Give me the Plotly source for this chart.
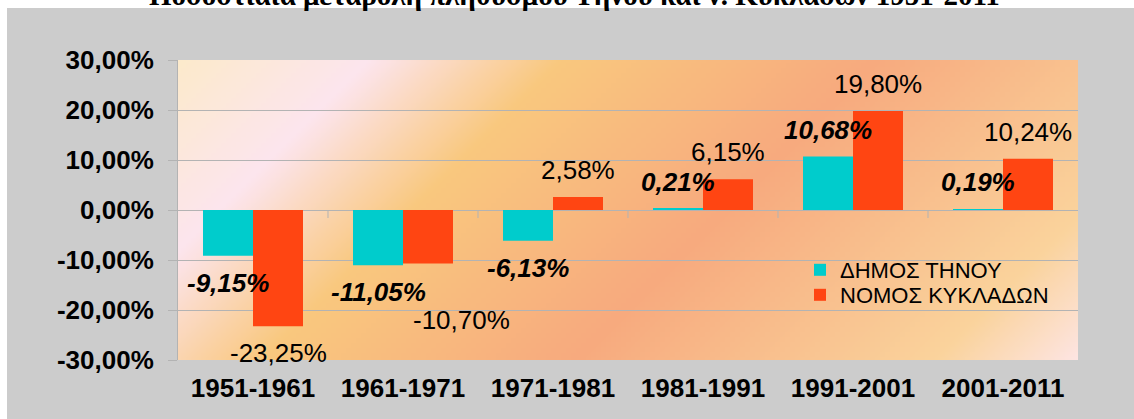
import base64
import struct
import zlib
import plotly.graph_objects as go

# ---------------- data ----------------
categories = ["1951-1961", "1961-1971", "1971-1981", "1981-1991", "1991-2001", "2001-2011"]
tinos = [-9.15, -11.05, -6.13, 0.21, 10.68, 0.19]
cyclades = [-23.25, -10.70, 2.58, 6.15, 19.80, 10.24]
series_names = ["ΔΗΜΟΣ ΤΗΝΟΥ", "ΝΟΜΟΣ ΚΥΚΛΑΔΩΝ"]
y_tick_values = [-30, -20, -10, 0, 10, 20, 30]
title_text = "Ποσοστιαία μεταβολή πληθυσμού Τήνου και ν. Κυκλάδων 1951-2011"

# ---------------- layout constants (figure pixels) ----------------
W, H = 1134, 419
ML, MR, MT, MB = 178, 56, 60, 59
PW, PH = W - ML - MR, H - MT - MB
BARGAP = 1 / 3
FONT = "Arial, Liberation Sans, sans-serif"
CYAN = "#00CCCC"
ORANGE = "#FF4512"
GRID = "#B3B3B3"
GRAY_BG = "#CCCCCC"


def pct(v):
    return f"{v:.2f}".replace(".", ",") + "%"


def px_x(xpx):
    return (xpx - ML) / PW


def px_y(ypx):
    return (MT + PH - ypx) / PH


# ---------------- diagonal gradient background (PNG) ----------------
stops = [
    (0.00, (252, 234, 203)),
    (0.16, (252, 229, 238)),
    (0.32, (249, 200, 126)),
    (0.58, (247, 170, 126)),
    (0.88, (250, 211, 156)),
    (1.00, (253, 229, 227)),
]


def grad_color(t):
    for (t0, c0), (t1, c1) in zip(stops[:-1], stops[1:]):
        if t <= t1:
            f = (t - t0) / (t1 - t0) if t1 > t0 else 0
            return tuple(int(round(a + (b - a) * f)) for a, b in zip(c0, c1))
    return stops[-1][1]


def make_png(w, h):
    rows = []
    for j in range(h):
        row = bytearray([0])
        py = (j + 0.5) * PH / h
        for i in range(w):
            px = (i + 0.5) * PW / w
            t = (px + py) / (PW + PH)
            row.extend(grad_color(t))
        rows.append(bytes(row))
    raw = b"".join(rows)

    def chunk(tag, data):
        return (struct.pack(">I", len(data)) + tag + data
                + struct.pack(">I", zlib.crc32(tag + data) & 0xFFFFFFFF))

    png = (b"\x89PNG\r\n\x1a\n"
           + chunk(b"IHDR", struct.pack(">IIBBBBB", w, h, 8, 2, 0, 0, 0))
           + chunk(b"IDAT", zlib.compress(raw, 9))
           + chunk(b"IEND", b""))
    return "data:image/png;base64," + base64.b64encode(png).decode()


bg_uri = make_png(180, 60)

# ---------------- figure ----------------
fig = go.Figure()
fig.add_trace(go.Bar(x=categories, y=tinos, name=series_names[0], legend="legend",
                     marker=dict(color=CYAN, line=dict(width=0))))
fig.add_trace(go.Bar(x=categories, y=cyclades, name=series_names[1], legend="legend2",
                     marker=dict(color=ORANGE, line=dict(width=0))))

# data labels
bar_px = PW / len(categories) * (1 - BARGAP) / 2
label_gap = 27
special_offsets = {(1, 1): (33, -29)}  # (series, category): extra (dx, dy) px
annotations = []
for s, (vals, bold) in enumerate([(tinos, True), (cyclades, False)]):
    for c, (cat, v) in enumerate(zip(categories, vals)):
        dx, dy = special_offsets.get((s, c), (0, 0))
        sign = 1 if v >= 0 else -1
        txt = pct(v)
        if bold:
            txt = f"<b><i>{txt}</i></b>"
        annotations.append(dict(
            x=cat, y=v, xref="x", yref="y", text=txt, showarrow=False,
            xanchor="center", yanchor="middle",
            xshift=(-bar_px / 2 if s == 0 else bar_px / 2) + dx,
            yshift=sign * label_gap + dy,
            font=dict(family=FONT, size=26, color="black"),
        ))

# title (only its lower part shows, above the chart's gray area)
annotations.append(dict(
    x=px_x(574), y=px_y(-5), xref="paper", yref="paper",
    text=f"<b>{title_text}</b>", showarrow=False, xanchor="center", yanchor="middle",
    font=dict(family="Liberation Serif, Times New Roman, serif", size=29, color="black"),
))

shapes = [
    # gray chart-area background
    dict(type="rect", xref="paper", yref="paper", layer="below",
         x0=px_x(7), x1=px_x(W + 20), y0=px_y(H + 20), y1=px_y(8),
         fillcolor=GRAY_BG, line=dict(width=0)),
]
# small category ticks on the zero line
for k in range(len(categories) - 1):
    shapes.append(dict(type="line", xref="x", yref="y", ysizemode="pixel", yanchor=0,
                       x0=k + 0.5, x1=k + 0.5, y0=0, y1=-8,
                       line=dict(color=GRID, width=1)))

legend_common = dict(xanchor="left", yanchor="middle", bgcolor="rgba(0,0,0,0)",
                     borderwidth=0, font=dict(family=FONT, size=22, color="black"))

fig.update_layout(
    width=W, height=H, autosize=False,
    margin=dict(l=ML, r=MR, t=MT, b=MB, pad=0),
    paper_bgcolor="white",
    plot_bgcolor="rgba(0,0,0,0)",
    barmode="group", bargap=BARGAP, bargroupgap=0,
    showlegend=True,
    legend=dict(x=px_x(800), y=px_y(270), **legend_common),
    legend2=dict(x=px_x(800), y=px_y(295), **legend_common),
    images=[dict(source=bg_uri, xref="x", yref="y", x=-0.5, y=30,
                 sizex=len(categories), sizey=60, xanchor="left", yanchor="top",
                 sizing="stretch", layer="below", opacity=1)],
    shapes=shapes,
    annotations=annotations,
    xaxis=dict(type="category", showgrid=False, zeroline=False, showline=False,
               ticks="", tickfont=dict(family=FONT, size=26, color="black"),
               tickprefix="<b>", ticksuffix="</b>", ticklabelstandoff=10,
               range=[-0.5, len(categories) - 0.5]),
    yaxis=dict(range=[-30, 30], tickvals=y_tick_values,
               ticktext=[f"<b>{pct(v)}</b>" for v in y_tick_values],
               showgrid=True, gridcolor=GRID, gridwidth=1, zeroline=False,
               showline=True, linecolor=GRID, linewidth=1,
               ticks="outside", ticklen=9, tickcolor=GRID, tickwidth=1,
               ticklabelstandoff=9,
               tickfont=dict(family=FONT, size=26, color="black")),
)

# the page's default body margin would offset the figure; remove it
fig.write_html("out.html", config={"displayModeBar": False},
               post_script="document.body.style.margin='0px';")
